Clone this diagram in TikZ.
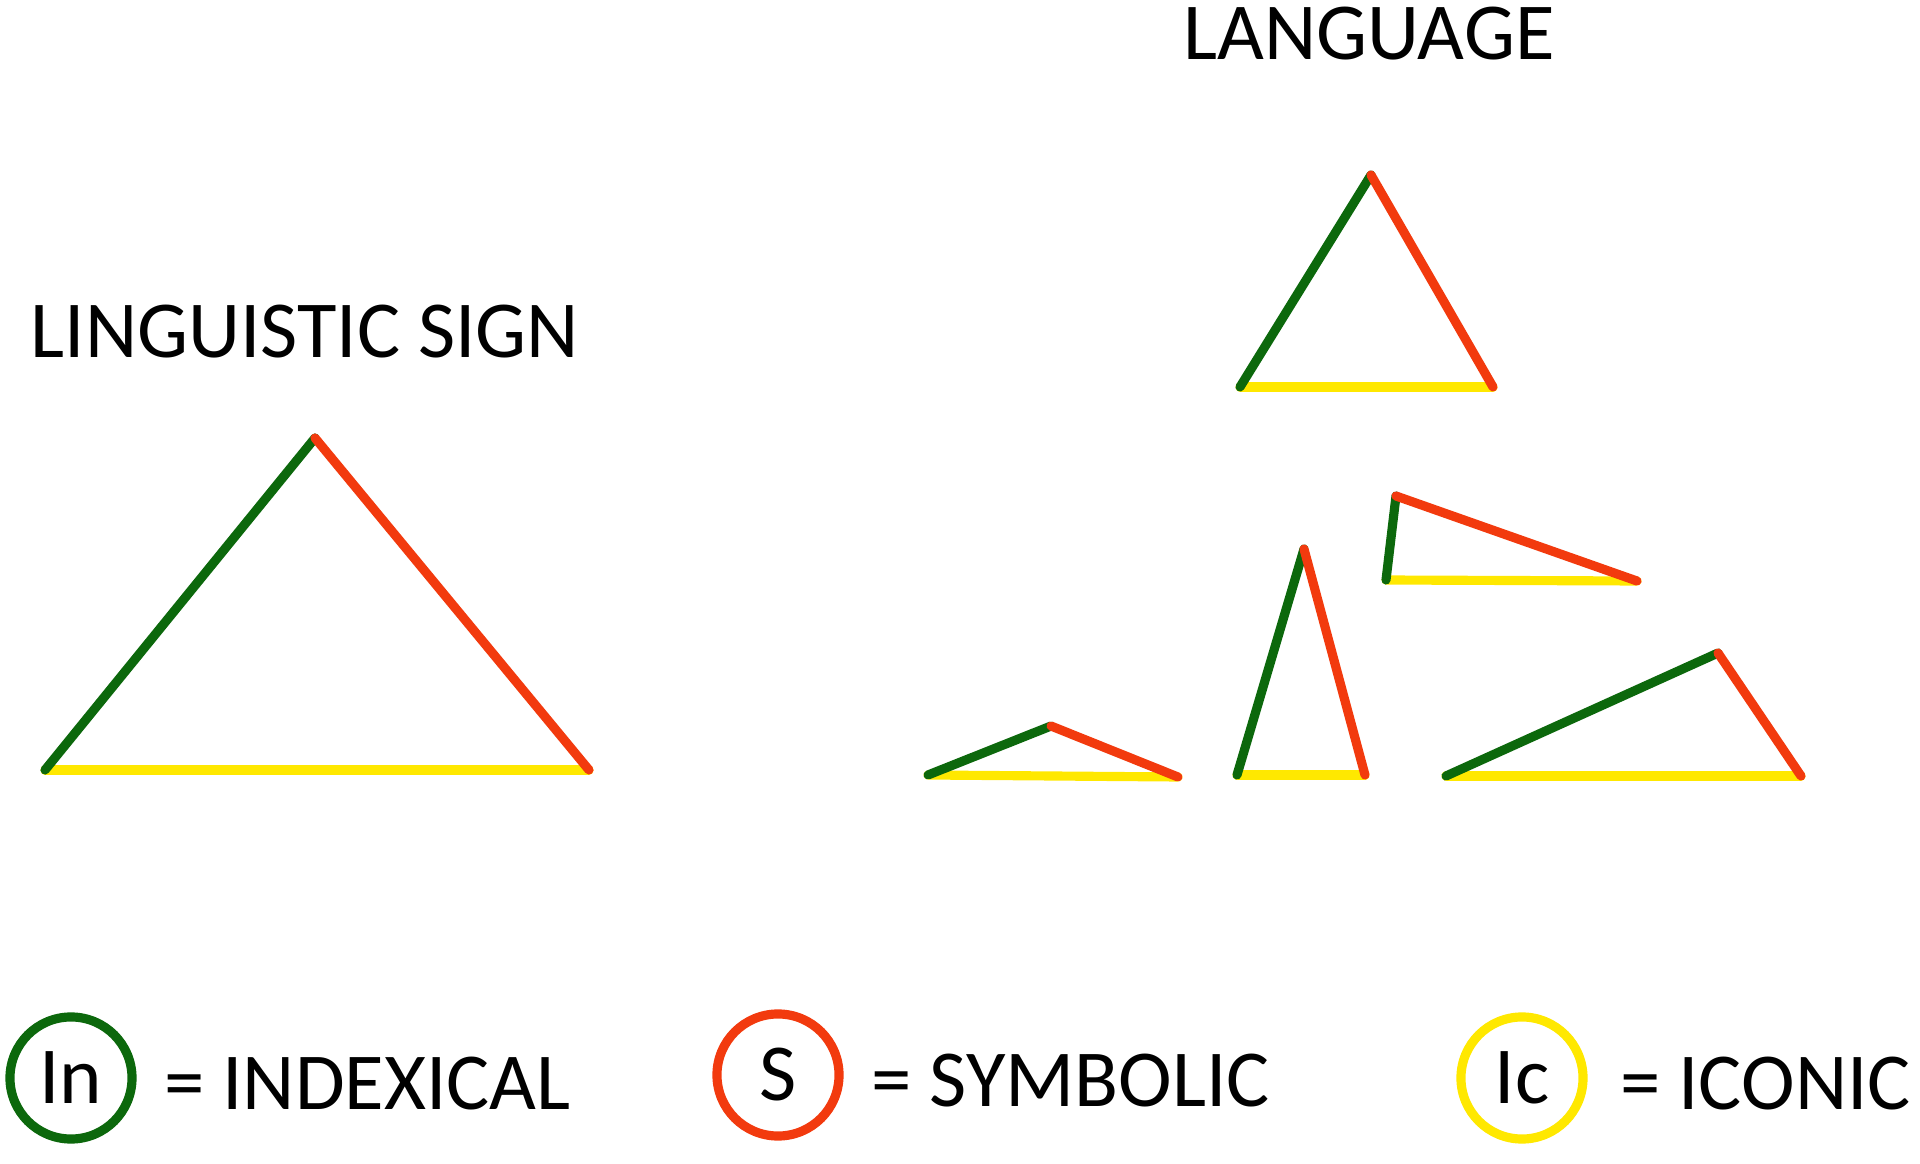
\documentclass[tikz,border=0pt]{standalone}
\usepackage{fontspec}
\setmainfont{Carlito}
\usetikzlibrary{positioning}

\definecolor{indexgreen}{RGB}{12,104,12}
\definecolor{symbolred}{RGB}{242,58,14}
\definecolor{iconyellow}{RGB}{255,232,0}

\tikzset{
  indexical/.style={draw=indexgreen, line width=2.6pt, line cap=round},
  symbolic/.style={draw=symbolred, line width=2.6pt, line cap=round},
  iconic/.style={draw=iconyellow, line width=2.6pt, line cap=round},
  caption/.style={font=\fontsize{23}{28}\selectfont},
  legend/.style={circle, line width=2.6pt, minimum size=1.22cm, inner sep=0pt,
    font=\fontsize{23}{28}\selectfont},
}

\begin{document}
\begin{tikzpicture}[x=0.01cm, y=-0.01cm]
  \useasboundingbox (0,0) rectangle (1920,1164);

  % titles
  \node[caption] (sign_title) at (305,332) {LINGUISTIC SIGN};
  \node[caption] (lang_title) at (1369,34) {LANGUAGE};

  % corners of the triangles
  \coordinate (sign_t) at (315,438);
  \coordinate (sign_l) at (45,770);
  \coordinate (sign_r) at (589,770);

  \coordinate (top_t) at (1371,175);
  \coordinate (top_l) at (1240,387);
  \coordinate (top_r) at (1493,387);

  \coordinate (flag_t) at (1396,496);
  \coordinate (flag_l) at (1386,580);
  \coordinate (flag_r) at (1637,581);

  \coordinate (low_t) at (1051,726);
  \coordinate (low_l) at (928,775);
  \coordinate (low_r) at (1178,777);

  \coordinate (tall_t) at (1304,549);
  \coordinate (tall_l) at (1237,775);
  \coordinate (tall_r) at (1365,775);

  \coordinate (wide_t) at (1718,653);
  \coordinate (wide_l) at (1446,776);
  \coordinate (wide_r) at (1801,776);

  % bases first
  \draw [iconic] (sign_l) -- (sign_r);
  \draw [iconic] (top_l) -- (top_r);
  \draw [iconic] (flag_l) -- (flag_r);
  \draw [iconic] (low_l) -- (low_r);
  \draw [iconic] (tall_l) -- (tall_r);
  \draw [iconic] (wide_l) -- (wide_r);

  \draw [indexical] (sign_l) -- (sign_t);
  \draw [symbolic] (sign_t) -- (sign_r);

  \draw [indexical] (top_l) -- (top_t);
  \draw [symbolic] (top_t) -- (top_r);

  \draw [indexical] (flag_l) -- (flag_t);
  \draw [symbolic] (flag_t) -- (flag_r);

  \draw [indexical] (low_l) -- (low_t);
  \draw [symbolic] (low_t) -- (low_r);

  \draw [indexical] (tall_l) -- (tall_t);
  \draw [symbolic] (tall_t) -- (tall_r);

  \draw [indexical] (wide_l) -- (wide_t);
  \draw [symbolic] (wide_t) -- (wide_r);

  % legend
  \node[legend, draw=indexgreen] (in_c) at (71,1078) {In};
  \node[caption, right=1.5mm of in_c, yshift=-0.06cm] (in_t) {= INDEXICAL};

  \node[legend, draw=symbolred] (s_c) at (778,1075) {S};
  \node[caption, right=1.5mm of s_c, yshift=-0.06cm] (s_t) {= SYMBOLIC};

  \node[legend, draw=iconyellow] (ic_c) at (1522,1078) {Ic};
  \node[caption, right=2mm of ic_c, yshift=-0.06cm] (ic_t) {= ICONIC};
\end{tikzpicture}
\end{document}
